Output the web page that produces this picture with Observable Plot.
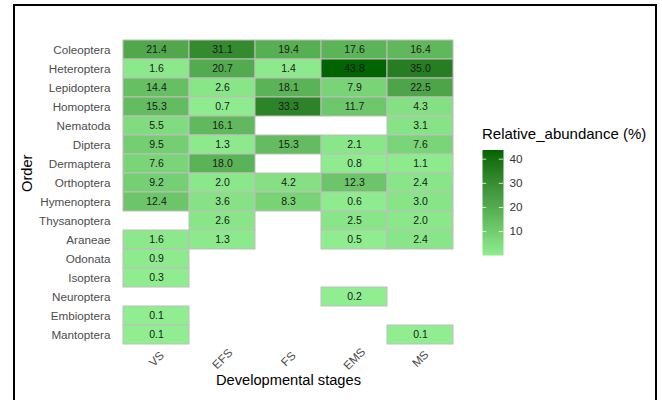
<!DOCTYPE html>
<html><head><meta charset="utf-8">
<script src="https://cdn.jsdelivr.net/npm/d3@7"></script>
<script src="https://cdn.jsdelivr.net/npm/@observablehq/plot@0.6"></script>
<style>
html,body{margin:0;padding:0;background:#fff;}
#wrap{position:relative;width:662px;height:400px;overflow:hidden;font-family:"Liberation Sans",Arial,sans-serif;}
#wrap svg{position:absolute;}
#frame{position:absolute;left:13px;top:4px;width:644px;height:430px;border:2px solid #000;box-sizing:border-box;pointer-events:none;z-index:5;}
#ltitle{position:absolute;left:482px;top:125px;font-size:15px;color:#000;white-space:nowrap;z-index:4;}
</style></head><body>
<div id="wrap"><div id="frame"></div><div id="ltitle">Relative_abundance (%)</div></div>
<script>
const stages = ["VS", "EFS", "FS", "EMS", "MS"];
const orders = ["Coleoptera", "Heteroptera", "Lepidoptera", "Homoptera", "Nematoda", "Diptera", "Dermaptera", "Orthoptera", "Hymenoptera", "Thysanoptera", "Araneae", "Odonata", "Isoptera", "Neuroptera", "Embioptera", "Mantoptera"];
const VS  = [21.4, 1.6, 14.4, 15.3, 5.5, 9.5, 7.6, 9.2, 12.4, null, 1.6, 0.9, 0.3, null, 0.1, 0.1];
const EFS = [31.1, 20.7, 2.6, 0.7, 16.1, 1.3, 18.0, 2.0, 3.6, 2.6, 1.3, null, null, null, null, null];
const FS  = [19.4, 1.4, 18.1, 33.3, null, 15.3, null, 4.2, 8.3, null, null, null, null, null, null, null];
const EMS = [17.6, 43.8, 7.9, 11.7, null, 2.1, 0.8, 12.3, 0.6, 2.5, 0.5, null, null, 0.2, null, null];
const MS  = [16.4, 35.0, 22.5, 4.3, 3.1, 7.6, 1.1, 2.4, 3.0, 2.0, 2.4, null, null, null, null, 0.1];
const legendTicks = [10, 20, 30, 40];

const series = {VS, EFS, FS, EMS, MS};
const table = [];
stages.forEach(s => series[s].forEach((v, i) => { if (v != null) table.push({stage: s, order: orders[i], value: v}); }));
const dom = d3.extent(table, d => d.value);
const colorOpts = {type: "linear", domain: dom, range: ["lightgreen", "darkgreen"], interpolate: "lab"};
const font = "'Liberation Sans', Arial, sans-serif";

const main = Plot.plot({
  width: 662, height: 400,
  marginLeft: 123, marginRight: 209, marginTop: 39.5, marginBottom: 56.5,
  style: {fontFamily: font, background: "transparent"},
  x: {domain: stages, padding: 0, label: null},
  y: {domain: orders, padding: 0, label: null},
  color: colorOpts,
  marks: [
    Plot.cell(table, {x: "stage", y: "order", fill: "value", stroke: "#bebebe", strokeWidth: 1, inset: 0}),
    Plot.text(table, {x: "stage", y: "order", text: d => d.value.toFixed(1), fill: "#1a1a1a", fontSize: 10.5}),
    Plot.axisY({tickSize: 0, tickPadding: 13, fontSize: 11.7, color: "#4d4d4d", label: null}),
    Plot.axisX({tickSize: 0, tickRotate: -45, textAnchor: "middle", lineAnchor: "middle", tickPadding: 15, fontSize: 11.7, color: "#4d4d4d", label: null}),
    Plot.text(["Order"], {frameAnchor: "left", rotate: -90, dx: -96, fontSize: 14.67, fill: "#000"}),
    Plot.text(["Developmental stages"], {frameAnchor: "bottom", dy: 41, fontSize: 14.67, fill: "#000"})
  ]
});
main.style.left = "0px"; main.style.top = "0px";

const legend = Plot.plot({
  width: 100, height: 125,
  marginLeft: 12, marginRight: 67, marginTop: 9.5, marginBottom: 10,
  style: {fontFamily: font, background: "transparent"},
  x: {domain: [0, 1], axis: null},
  y: {domain: dom, label: null},
  color: colorOpts,
  marks: [
    Plot.raster({x1: 0, x2: 1, y1: dom[0], y2: dom[1], fill: (x, y) => y, width: 1, height: 200, imageRendering: "auto"}),
    Plot.ruleY(legendTicks, {x1: 0, x2: 0.2, stroke: "white", strokeOpacity: 0.8}),
    Plot.ruleY(legendTicks, {x1: 0.8, x2: 1, stroke: "white", strokeOpacity: 0.8}),
    Plot.axisY({anchor: "right", ticks: legendTicks, tickSize: 0, tickPadding: 6, fontSize: 11.7, color: "#333", label: null})
  ]
});
legend.style.left = "470px"; legend.style.top = "140px";

const wrap = document.getElementById("wrap");
wrap.prepend(legend);
wrap.prepend(main);
</script>
</body></html>
